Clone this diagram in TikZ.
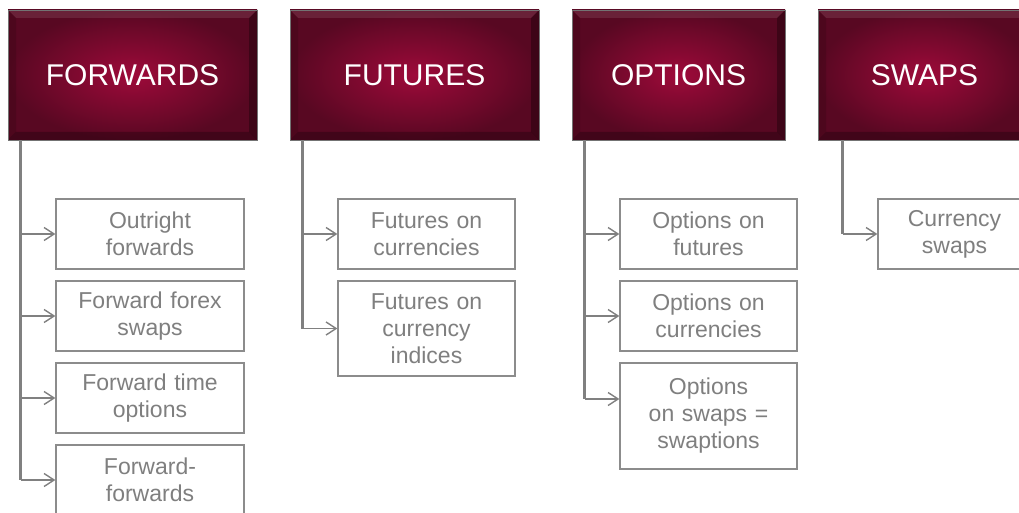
\documentclass[tikz,border=0pt]{standalone}
\usepackage{fontspec}
\setmainfont{Liberation Sans}
\usetikzlibrary{arrows.meta}

\definecolor{headmid}{RGB}{158,10,58}
\definecolor{headedge}{RGB}{88,8,34}
\definecolor{boxgray}{RGB}{140,140,140}
\definecolor{textgray}{RGB}{127,127,127}

\begin{document}
\begin{tikzpicture}[
    x=1pt, y=-1pt,
    % Styles des titres (bandeaux bordeaux)
    famille/.style={rectangle, draw=black!55, line width=0.8pt,
                    inner color=headmid, outer color=headedge,
                    minimum height=130pt, inner sep=0pt, text=white,
                    font=\fontsize{30}{36}\selectfont,
                    path picture={
                      \fill[white, opacity=0.10] (path picture bounding box.north west) -- (path picture bounding box.north east)
                        -- ([xshift=-8pt, yshift=-8pt]path picture bounding box.north east) -- ([xshift=8pt, yshift=-8pt]path picture bounding box.north west) -- cycle;
                      \fill[black, opacity=0.25] (path picture bounding box.south west) -- (path picture bounding box.south east)
                        -- ([xshift=-8pt, yshift=8pt]path picture bounding box.south east) -- ([xshift=8pt, yshift=8pt]path picture bounding box.south west) -- cycle;
                      \fill[black, opacity=0.30] (path picture bounding box.north east) -- (path picture bounding box.south east)
                        -- ([xshift=-8pt, yshift=8pt]path picture bounding box.south east) -- ([xshift=-8pt, yshift=-8pt]path picture bounding box.north east) -- cycle;
                      \fill[black, opacity=0.12] (path picture bounding box.north west) -- (path picture bounding box.south west)
                        -- ([xshift=8pt, yshift=8pt]path picture bounding box.south west) -- ([xshift=8pt, yshift=-8pt]path picture bounding box.north west) -- cycle;
                    }},
    % Style des produits
    produit/.style={rectangle, draw=boxgray, line width=1.3pt, fill=white,
                    text=textgray, align=center, inner sep=0pt,
                    minimum height=70pt, font=\fontsize{23}{27}\selectfont},
    % Style des traits
    tronc/.style={draw=gray, line width=2.4pt},
    arrow/.style={-{Straight Barb[length=10pt, width=13pt]}, draw=gray, line width=1.4pt}
]
\clip (0,0) rectangle (1019,513);

% ==========================================
% TITRES
% ==========================================
\node[famille, minimum width=249pt] (fwd) at (132.5, 75) {FORWARDS};
\node[famille, minimum width=249pt] (fut) at (414.5, 75) {FUTURES};
\node[famille, minimum width=213pt] (opt) at (678.5, 75) {OPTIONS};
\node[famille, minimum width=213pt] (swp) at (924.5, 75) {SWAPS};

% ==========================================
% FORWARDS
% ==========================================
\node[produit, text width=188pt] (outright) at (150, 234) {Outright\\forwards};
\node[produit, text width=188pt] (fxswap) at (150, 316) {Forward forex\\swaps};
\node[produit, text width=188pt] (fto) at (150, 398) {Forward time\\options};
\node[produit, text width=188pt] (fwdfwd) at (150, 480) {Forward-\\forwards};

\draw[tronc] ([xshift=13pt]fwd.south west) -- ([xshift=13pt]fwd.south west |- fwdfwd.west);
\draw[arrow] ([xshift=13pt]fwd.south west |- outright.west) -- (outright.west);
\draw[arrow] ([xshift=13pt]fwd.south west |- fxswap.west) -- (fxswap.west);
\draw[arrow] ([xshift=13pt]fwd.south west |- fto.west) -- (fto.west);
\draw[arrow] ([xshift=13pt]fwd.south west |- fwdfwd.west) -- (fwdfwd.west);

% ==========================================
% FUTURES
% ==========================================
\node[produit, text width=177pt] (futcur) at (426.5, 234) {Futures on\\currencies};
\node[produit, text width=177pt, minimum height=95pt] (futidx) at (426.5, 328.5) {Futures on\\currency\\indices};

\draw[tronc] ([xshift=13pt]fut.south west) -- ([xshift=13pt]fut.south west |- futidx.west);
\draw[arrow] ([xshift=13pt]fut.south west |- futcur.west) -- (futcur.west);
\draw[arrow] ([xshift=13pt]fut.south west |- futidx.west) -- (futidx.west);

% ==========================================
% OPTIONS
% ==========================================
\node[produit, text width=177pt] (optfut) at (708.5, 234) {Options on\\futures};
\node[produit, text width=177pt] (optcur) at (708.5, 316) {Options on\\currencies};
\node[produit, text width=177pt, minimum height=106pt] (swaption) at (708.5, 416) {Options\\on swaps =\\swaptions};

\coordinate (swpin) at ([yshift=17pt]swaption.west);
\draw[tronc] ([xshift=13pt]opt.south west) -- ([xshift=13pt]opt.south west |- swpin);
\draw[arrow] ([xshift=13pt]opt.south west |- optfut.west) -- (optfut.west);
\draw[arrow] ([xshift=13pt]opt.south west |- optcur.west) -- (optcur.west);
\draw[arrow] ([xshift=13pt]opt.south west |- swpin) -- (swpin);

% ==========================================
% SWAPS
% ==========================================
\node[produit, text width=153pt] (curswap) at (954.5, 234) {Currency\\swaps};

\draw[tronc] ([xshift=25pt]swp.south west) -- ([xshift=25pt]swp.south west |- curswap.west);
\draw[arrow] ([xshift=25pt]swp.south west |- curswap.west) -- (curswap.west);

\end{tikzpicture}
\end{document}
